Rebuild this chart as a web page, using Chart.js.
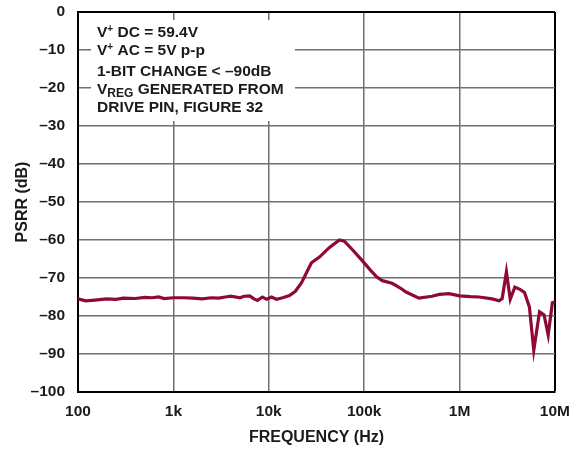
<!DOCTYPE html>
<html>
<head>
<meta charset="utf-8">
<script src="https://cdn.jsdelivr.net/npm/chart.js@4"></script>
<style>
html,body{margin:0;padding:0;background:#fff;}
#wrap{position:relative;width:580px;height:450px;}
</style>
</head>
<body>
<div id="wrap"><canvas id="c" width="580" height="450"></canvas></div>
<script>
const freqHz = [100, 120, 150, 200, 250, 300, 400, 500, 600, 700, 800, 1000, 1300, 1600, 2000, 2500, 3000, 3500, 4000, 5000, 5500, 6300, 7000, 7600, 8600, 9500, 10700, 12000, 14000, 16500, 19000, 22000, 25000, 28000, 34000, 43000, 55000, 62000, 75000, 96000, 115000, 135000, 155000, 196000, 235000, 275000, 375000, 515000, 614000, 775000, 1000000, 1300000, 1600000, 2200000, 2600000, 2800000, 3100000, 3400000, 3800000, 4300000, 4800000, 5400000, 6000000, 6900000, 7700000, 8500000, 9400000, 10000000];
const psrrDb = [-75.5, -76.0, -75.8, -75.5, -75.6, -75.3, -75.4, -75.1, -75.2, -75.0, -75.4, -75.2, -75.2, -75.3, -75.5, -75.2, -75.3, -75.0, -74.8, -75.2, -74.8, -74.7, -75.5, -75.9, -75.0, -75.6, -75.0, -75.6, -75.2, -74.6, -73.5, -71.3, -68.5, -66.0, -64.5, -62.0, -60.0, -60.3, -62.5, -65.5, -67.8, -69.7, -70.7, -71.4, -72.5, -73.7, -75.3, -74.8, -74.3, -74.1, -74.7, -74.9, -75.0, -75.5, -76.0, -75.4, -68.4, -75.6, -72.4, -73.0, -73.8, -77.6, -89.0, -78.9, -79.7, -85.0, -76.5, -76.3];
const xTickValues = [100, 1000, 10000, 100000, 1000000, 10000000];
const xTickLabels = ['100', '1k', '10k', '100k', '1M', '10M'];
const yTickValues = [0, -10, -20, -30, -40, -50, -60, -70, -80, -90, -100];
const noteLines = ['V+ DC = 59.4V', 'V+ AC = 5V p-p', '1-BIT CHANGE < \u201390dB', 'VREG GENERATED FROM', 'DRIVE PIN, FIGURE 32'];

const FONT = '"Liberation Sans", Arial, Helvetica, sans-serif';
const TXT = '#1a1a1a';

const notePlugin = {
  id: 'note',
  beforeDatasetsDraw(chart) {
    const ctx = chart.ctx;
    ctx.save();
    ctx.fillStyle = '#fff';
    ctx.fillRect(91, 20, 204, 101);
    ctx.fillStyle = TXT;
    ctx.textBaseline = 'alphabetic';
    const big = 'bold 15.5px ' + FONT;
    const small = 'bold 10px ' + FONT;
    const x0 = 97;
    function sup(y, rest) {
      ctx.font = big; ctx.fillText('V', x0, y);
      let w = ctx.measureText('V').width;
      ctx.font = small; ctx.fillText('+', x0 + w, y - 5);
      w += ctx.measureText('+').width;
      ctx.font = big; ctx.fillText(rest, x0 + w, y);
    }
    sup(37, noteLines[0].slice(2));
    sup(55, noteLines[1].slice(2));
    ctx.font = big;
    ctx.fillText(noteLines[2], x0, 76);
    ctx.fillText('V', x0, 94);
    let w = ctx.measureText('V').width;
    ctx.font = 'bold 12px ' + FONT;
    ctx.fillText('REG', x0 + w, 97);
    w += ctx.measureText('REG').width;
    ctx.font = big;
    ctx.fillText(noteLines[3].slice(4), x0 + w, 94);
    ctx.fillText(noteLines[4], x0, 112);
    ctx.restore();
  }
};

new Chart(document.getElementById('c'), {
  type: 'line',
  data: {
    datasets: [{
      data: freqHz.map((f, i) => ({x: f, y: psrrDb[i]})),
      borderColor: '#8f0a33',
      borderWidth: 3.2,
      pointRadius: 0,
      tension: 0,
      fill: false
    }]
  },
  options: {
    responsive: false,
    animation: false,
    devicePixelRatio: 1,
    layout: {padding: {left: 0, right: 24, top: 12, bottom: 0}},
    plugins: {legend: {display: false}, tooltip: {enabled: false}},
    scales: {
      x: {
        type: 'logarithmic',
        min: 100, max: 10000000,
        afterBuildTicks(s) { s.ticks = xTickValues.map(v => ({value: v})); },
        afterFit(s) { s.height = 58; },
        ticks: {
          color: TXT, font: {family: FONT, size: 15.5, weight: 'bold'}, padding: 10,
          maxRotation: 0, autoSkip: false,
          callback(v) { const i = xTickValues.indexOf(v); return i >= 0 ? xTickLabels[i] : ''; }
        },
        grid: {
          drawTicks: false,
          color: c => (c.tick && c.tick.value === 10000000) ? '#000' : '#707070',
          lineWidth: c => (c.tick && c.tick.value === 10000000) ? 2 : 1.5
        },
        border: {color: '#000', width: 2},
        title: {display: true, text: 'FREQUENCY (Hz)', color: TXT, font: {family: FONT, size: 16, weight: 'bold'}, padding: {top: 0, bottom: 3}}
      },
      y: {
        type: 'linear',
        min: -100, max: 0,
        afterBuildTicks(s) { s.ticks = yTickValues.map(v => ({value: v})); },
        afterFit(s) { s.width = 78; s.paddingTop = 0; s.paddingBottom = 0; },
        ticks: {
          color: TXT, font: {family: FONT, size: 15.5, weight: 'bold'}, padding: 13,
          callback(v) { return v < 0 ? '\u2013' + Math.abs(v) : String(v); }
        },
        grid: {
          drawTicks: false,
          color: c => (c.tick && c.tick.value === 0) ? '#000' : '#707070',
          lineWidth: c => (c.tick && c.tick.value === 0) ? 2 : 1.5
        },
        border: {color: '#000', width: 2},
        title: {display: true, text: 'PSRR (dB)', color: TXT, font: {family: FONT, size: 16, weight: 'bold'}, padding: {top: 13, bottom: 0}}
      }
    }
  },
  plugins: [notePlugin]
});
</script>
</body>
</html>
